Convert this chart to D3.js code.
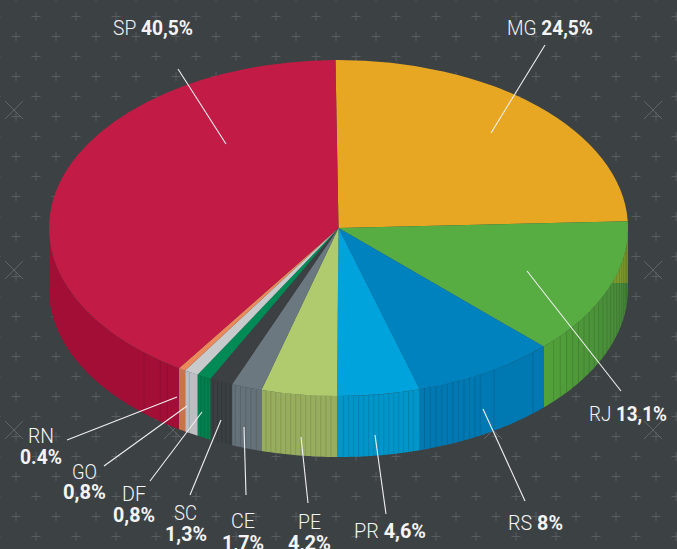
<!DOCTYPE html>
<html><head><meta charset="utf-8">
<script src="https://cdn.jsdelivr.net/npm/d3@7"></script>
<style>html,body{margin:0;padding:0;background:#3c4144}svg{display:block}text{font-family:"Roboto","DejaVu Sans",sans-serif;fill:#f4f4f4;font-size:21px}</style>
</head><body><div id="c"></div>
<script>
const states=["MG","RJ","RS","PR","PE","CE","SC","DF","GO","RN","SP"];
const values=[24.5,13.1,8,4.6,4.2,1.7,1.3,0.8,0.8,0.4,40.5];
const valueLabels=["24,5%","13,1%","8%","4,6%","4,2%","1,7%","1,3%","0,8%","0,8%","0.4%","40,5%"];
const topColors=["#e8a723","#58ad42","#0082be","#00a3dc","#afcb6e","#6b7880","#3c4043","#008a56","#c9cacc","#ea8a5a","#c21c46"];
const wallColors=["#7d9a2c","url(#rjWall)","#0079b2","#0096ca","#98ae5e","#65727a","#3a3f41","#00804f","#bdbec1","#c77548","#a30e37"];
const W=677,H=549,cx=338.5,cy=228,rx=289.5,ry=168,depth=61,startDeg=-0.6;
const rad=d=>d*Math.PI/180;
const svg=d3.select("#c").append("svg").attr("width",W).attr("height",H);
const defs=svg.append("defs");
const g=defs.append("linearGradient").attr("id","rjWall");
g.append("stop").attr("offset","0").attr("stop-color","#52a339");
g.append("stop").attr("offset","1").attr("stop-color","#47883b");
defs.append("clipPath").attr("id","olive").append("rect").attr("x",cx).attr("y",cy).attr("width",rx).attr("height",55);
svg.append("rect").attr("width",W).attr("height",H).attr("fill","#3c4144");
// background
const plusData=[];
d3.range(-1,28).forEach(r=>d3.range(-1,19).forEach(c=>plusData.push([((r+2)%2?16:36)+c*40,16.5+r*20])));
svg.append("g").attr("stroke","#585d60").attr("stroke-width",1).selectAll("path").data(plusData).join("path")
 .attr("d",d=>`M${d[0]-4.5},${d[1]}H${d[0]+4.5}M${d[0]},${d[1]-4.5}V${d[1]+4.5}`);
const xData=[];
[14,173,333,493,653].forEach(x=>[110,270,430].forEach(y=>xData.push([x,y])));
svg.append("g").attr("stroke","#5f6467").attr("stroke-width",1).selectAll("path").data(xData).join("path")
 .attr("d",d=>`M${d[0]-9},${d[1]-9}L${d[0]+9},${d[1]+9}M${d[0]+9},${d[1]-9}L${d[0]-9},${d[1]+9}`);
const pie=d3.pie().sort(null).value(d=>d).startAngle(rad(startDeg)).endAngle(rad(startDeg+360));
const arcs=pie(values);
const px=a=>cx+rx*Math.sin(a),py=a=>cy-ry*Math.cos(a);
function wall(a0,a1){
 const n=Math.max(2,Math.ceil((a1-a0)/rad(1)));const s=d3.scaleLinear().domain([0,n]).range([a0,a1]);
 const ts=d3.range(n+1).map(s);
 return d3.line()([...ts.map(t=>[px(t),py(t)]),...ts.slice().reverse().map(t=>[px(t),py(t)+depth])])+"Z";
}
const walls=svg.append("g");
arcs.forEach((d,i)=>{
 const a0=Math.max(d.startAngle,rad(90)),a1=Math.min(d.endAngle,rad(270));
 if(a1<=a0)return;
 walls.append("path").attr("d",wall(a0,a1)).attr("fill",wallColors[i]);
});
// olive sliver on the right of the wall
walls.append("path").attr("d",wall(rad(90),rad(115))).attr("fill",wallColors[0]).attr("clip-path","url(#olive)");
// wall texture: thin vertical ribs (degrees around the pie: from, to, step)
const ribBands=[[94,134,2],[137.8,137.9,1],[147.5,147.6,1],[150.7,163,1.2],[165,180,1],[181.5,195,1],[196.5,201,1.1],[202,206,0.9],[206.8,208.5,0.8],[211,212,.9],[216.3,216.4,1],[218,218.1,1],[222.2,222.3,1]];
const ribs=ribBands.flatMap(([a,b,s])=>d3.range(a,b,s));
walls.append("g").attr("stroke","#000").attr("stroke-opacity",.13).selectAll("line").data(ribs).join("line")
 .attr("x1",d=>px(rad(d))).attr("x2",d=>px(rad(d))).attr("y1",d=>py(rad(d))).attr("y2",d=>py(rad(d))+depth);
// top surface
const arc=d3.arc().innerRadius(0).outerRadius(rx);
svg.append("g").attr("transform",`translate(${cx},${cy}) scale(1,${ry/rx})`)
 .selectAll("path").data(arcs).join("path").attr("d",arc).attr("fill",(d,i)=>topColors[i]);
// leaders
const leaders=[[491,133,545,45],[527,271,621,391],[483,409,525,501],[375,435,386,514],[301,437,308,503],[244,427,246,495],[221,420,190,495],[202,412,150,481],[187,406,104,466],[177,397,67,440],[226,144,178,69]];
svg.append("g").attr("stroke","#f0f0f0").attr("stroke-width",1.1).selectAll("line").data(leaders).join("line")
 .attr("x1",d=>d[0]).attr("y1",d=>d[1]).attr("x2",d=>d[2]).attr("y2",d=>d[3]);
// labels: left, right, baseline
function fit(sel,x0,x1,y){
 const w=sel.node().getComputedTextLength();
 sel.attr("transform",`translate(${x0},${y}) scale(${(x1-x0)/w},1)`);
}
const oneLine={MG:[507,593,35],RJ:[589,667,421],RS:[508,563,530],PR:[354,426,538],SP:[113,193,35]};
const twoLine={PE:[[298,321,529],[288,331,550]],CE:[[231,255,528],[222,264,550]],SC:[[174,197,520],[165,207,541]],DF:[[122,146,501],[113,155,522]],GO:[[72,97,479],[63,106,499]],RN:[[28,54,443],[20,62,464]]};
states.forEach((s,i)=>{
 if(oneLine[s]){
  const t=svg.append("text");
  t.append("tspan").attr("font-weight",300).text(s+" ");
  t.append("tspan").attr("font-weight",700).text(valueLabels[i]);
  fit(t,...oneLine[s]);
 } else {
  const p=twoLine[s];
  fit(svg.append("text").attr("font-weight",300).text(s),...p[0]);
  fit(svg.append("text").attr("font-weight",700).text(valueLabels[i]),...p[1]);
 }
});
</script></body></html>
